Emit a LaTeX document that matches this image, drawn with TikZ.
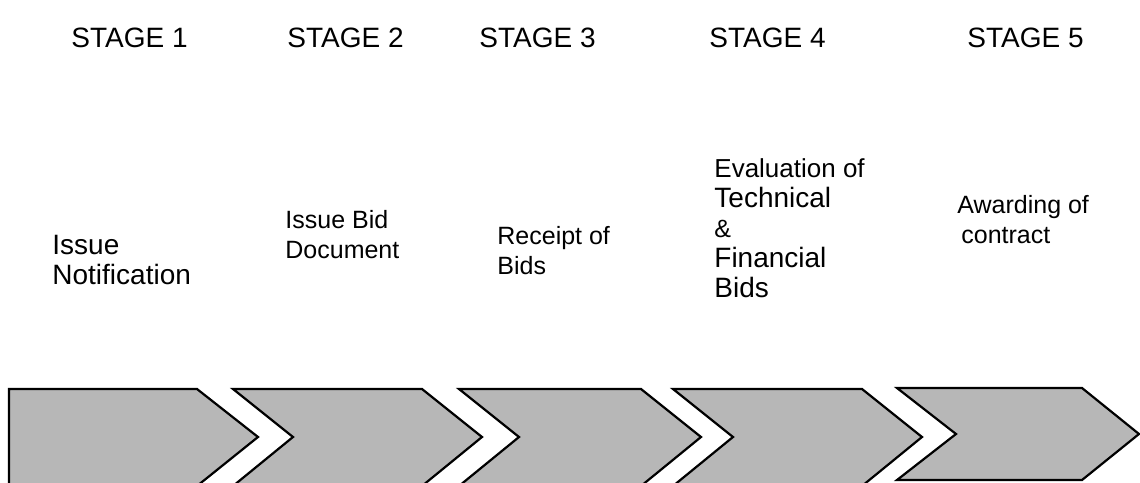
\documentclass[tikz,border=0pt]{standalone}
\usepackage{fontspec}
\setmainfont{Liberation Sans}
\usetikzlibrary{positioning}
\definecolor{chevgray}{RGB}{183,183,183}

\begin{document}
\begin{tikzpicture}[x=0.5pt, y=-0.5pt]
        \tikzstyle{chev} = [draw=black, line width=1.1pt, fill=chevgray, line join=miter]
        \tikzstyle{stage} = [anchor=north west, inner sep=0pt, font=\fontsize{14}{15}\selectfont]
        \tikzstyle{task} = [anchor=north west, inner sep=0pt, align=left, font=\fontsize{12.5}{15}\selectfont]
        \tikzstyle{big} = [font=\fontsize{14}{15}\selectfont]

        \fill[white] (0,0) rectangle (1140,482);
        \useasboundingbox (0,0) rectangle (1140,482);

        % stage headings
        \node [stage] (s1) at (71,28) {STAGE 1};
        \node [stage] (s2) at (287,28) {STAGE 2};
        \node [stage] (s3) at (479,28) {STAGE 3};
        \node [stage] (s4) at (709,28) {STAGE 4};
        \node [stage] (s5) at (967,28) {STAGE 5};

        % what happens in each stage
        \node [task, big] (t1) at (52,235) {Issue\\Notification};
        \node [task] (t2) at (285,210) {Issue Bid\\Document};
        \node [task] (t3) at (497,226) {Receipt of\\Bids};
        \node [task] (t4) at (714,158) {{\fontsize{13}{15}\selectfont Evaluation of}\\{\fontsize{14}{15}\selectfont Technical}\\\&\\{\fontsize{14}{15}\selectfont Financial}\\{\fontsize{14}{15}\selectfont Bids}};
        \node [task] (t5) at (957,195) {Awarding of\\\hspace*{2pt}contract};

        % the arrow band
        \begin{scope}
        \clip (0,0) rectangle (1140,482);
        \draw [chev] (9,389) -- (197,389) -- (258,437) -- (197,486) -- (9,486) -- cycle;
        \foreach \l/\r in {233/422, 459/641, 673/862}
            \draw [chev] (\l,389) -- (\r,389) -- (\r+60,437) -- (\r,486) -- (\l,486) -- (\l+60,437) -- cycle;
        \draw [chev] (897,388) -- (1082,388) -- (1139,434) -- (1082,480) -- (897,480) -- (956,434) -- cycle;
        \end{scope}
    \end{tikzpicture}
\end{document}
